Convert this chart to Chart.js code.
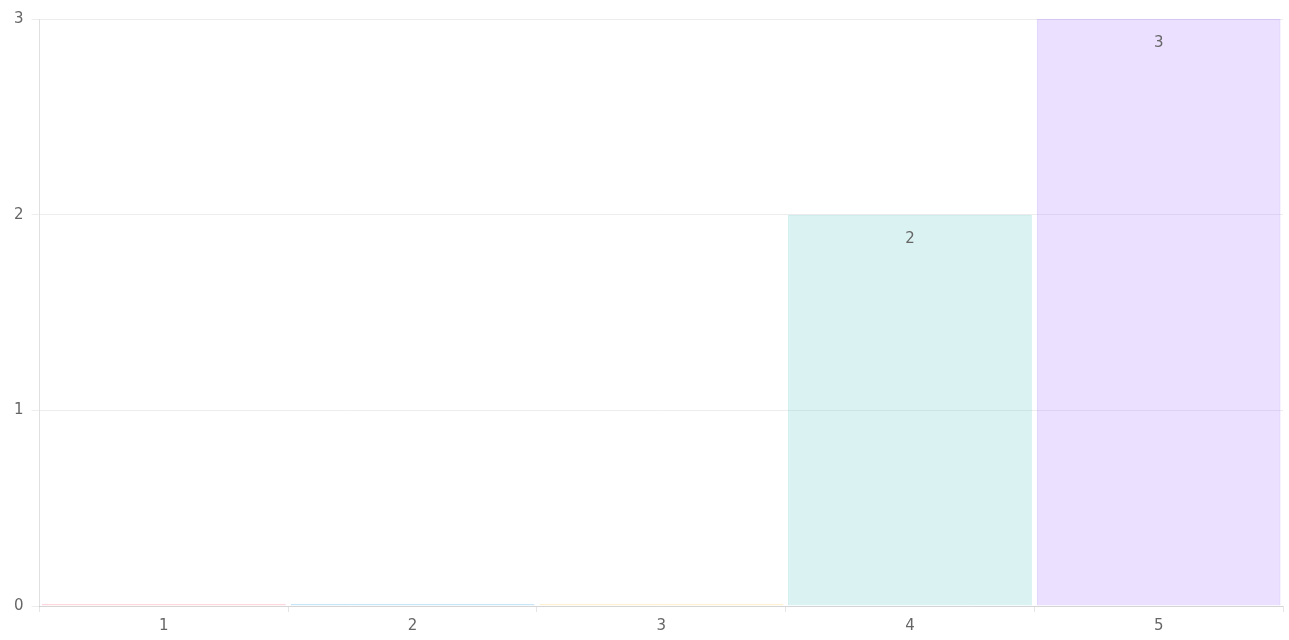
<!DOCTYPE html>
<html>
<head>
<meta charset="utf-8">
<script src="https://cdn.jsdelivr.net/npm/chart.js@4"></script>
<style>
html,body{margin:0;padding:0;background:#fff;}
#wrap{width:1289px;height:640px;position:relative;}
</style>
</head>
<body>
<div id="wrap"><canvas id="c" width="1289" height="640"></canvas></div>
<script>
const categories = ['1', '2', '3', '4', '5'];
const values = [0, 0, 0, 2, 3];
const yTicks = [0, 1, 2, 3];
const fillColors = ['rgba(255,99,132,0.2)', 'rgba(54,162,235,0.2)', 'rgba(255,206,86,0.2)', 'rgba(75,192,192,0.2)', 'rgba(153,102,255,0.2)'];
const borderColors = ['rgba(255,99,132,0.3)', 'rgba(54,162,235,0.3)', 'rgba(255,206,86,0.3)', 'rgba(75,192,192,0.3)', 'rgba(153,102,255,0.3)'];

const labelPlugin = {
  id: 'barLabels',
  afterDatasetsDraw(chart) {
    const ctx = chart.ctx;
    const meta = chart.getDatasetMeta(0);
    ctx.save();
    ctx.font = '15px "DejaVu Sans", sans-serif';
    ctx.fillStyle = '#666';
    ctx.textAlign = 'center';
    ctx.textBaseline = 'middle';
    meta.data.forEach((bar, i) => {
      const v = values[i];
      if (!v) return;
      ctx.fillText(String(v), bar.x, bar.y + 24);
    });
    ctx.restore();
  }
};

Chart.defaults.font.family = '"DejaVu Sans", sans-serif';
Chart.defaults.font.size = 15;
Chart.defaults.color = '#666';

new Chart(document.getElementById('c'), {
  type: 'bar',
  data: {
    labels: categories,
    datasets: [{
      data: values,
      backgroundColor: fillColors,
      borderColor: borderColors,
      borderWidth: 1,
      minBarLength: 2,
      categoryPercentage: 1,
      barPercentage: 0.98
    }]
  },
  options: {
    responsive: false,
    animation: false,
    layout: { padding: { top: 19, right: 6, left: 6, bottom: 0 } },
    plugins: { legend: { display: false }, tooltip: { enabled: false } },
    scales: {
      x: {
        grid: { offset: true, drawOnChartArea: false, color: 'rgba(0,0,0,0.1)', tickLength: 6 },
        border: { color: 'rgba(0,0,0,0.1)' },
        ticks: { padding: 5 }
      },
      y: {
        min: 0, max: 3,
        afterBuildTicks(axis) { axis.ticks = yTicks.map(v => ({ value: v })); },
        grid: { color: 'rgba(0,0,0,0.07)', tickLength: 8 },
        border: { color: 'rgba(0,0,0,0.12)' },
        ticks: { padding: 8 }
      }
    }
  },
  plugins: [labelPlugin]
});
</script>
</body>
</html>
